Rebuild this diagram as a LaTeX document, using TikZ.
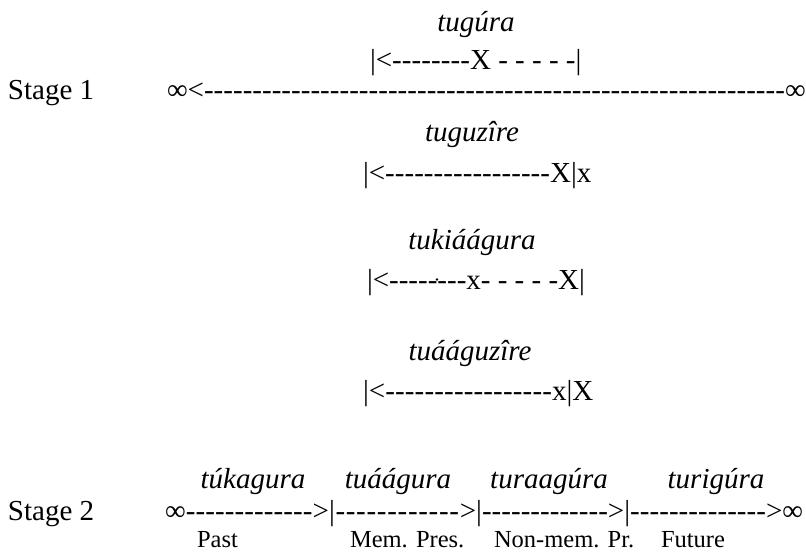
\documentclass[tikz,border=0pt]{standalone}
\usepackage{fontspec}
\setmainfont{Liberation Serif}[Ligatures=TeXOff]
% a run of hyphens filling a fixed width (in pt)
\newcommand{\dfill}[1]{\hbox to #1pt{\xleaders\hbox{-}\hfil}}
\tikzset{
  line/.style={inner sep=0pt, outer sep=0pt, anchor=base west,
               font=\fontsize{29}{34}\selectfont},
  word/.style={inner sep=0pt, outer sep=0pt, anchor=base,
               font=\fontsize{29}{34}\selectfont\itshape},
  tense/.style={inner sep=0pt, outer sep=0pt, anchor=base west,
                font=\fontsize{24.5}{29}\selectfont},
}
\begin{document}
\begin{tikzpicture}[x=1pt,y=-1pt]
\useasboundingbox (0,0) rectangle (806,553);

% ---- Stage 1 ----
\node[line] (stageone) at (8,100) {Stage 1};
\node[line] (timeline) at (167,100) {∞<\dfill{581}∞};

\node[word] (tugura) at (476,32) {tugúra};
\node[line] (tugurarow) at (370,70) {|<\dfill{78}X - - - - -|};

\node[word] (tuguzire) at (472,142) {tuguzîre};
\node[line] (tuguzirerow) at (363,183) {|<\dfill{165}X|x};

\node[word] (tukiaagura) at (472,250) {tukiáágura};
\node[line] (tukiaagurarow) at (367,290) {|<--------x- - - - -X|};
% small mark above the dashed run
\fill (437,279.5) circle (1.3pt);

\node[word] (tuaaguzire) at (470,360) {tuááguzîre};
\node[line] (tuaaguzirerow) at (363,400) {|<\dfill{167}x|X};

% ---- Stage 2 ----
\node[line] (stagetwo) at (8,520) {Stage 2};
\node[line] (tenses) at (165,520)
  {∞\dfill{127}>|\dfill{125}>|\dfill{126}>|\dfill{136}>∞};

\node[word] (tukagura) at (253,488) {túkagura};
\node[word] (tuaagura) at (398,488) {tuáágura};
\node[word] (turaagura) at (549,488) {turaagúra};
\node[word] (turigura) at (716,488) {turigúra};

\node[tense] (past) at (197,547) {Past};
\node[tense] (mempres) at (350,547) {Mem. Pres.};
\node[tense] (nonmem) at (494,547) {Non-mem. Pr.};
\node[tense] (future) at (661,547) {Future};
\end{tikzpicture}
\end{document}
